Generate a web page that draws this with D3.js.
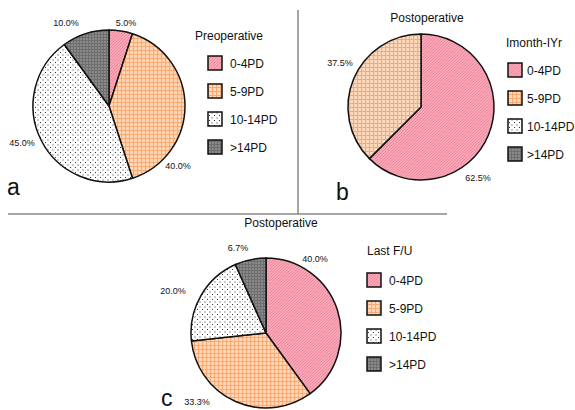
<!DOCTYPE html>
<html>
<head>
<meta charset="utf-8">
<script src="https://cdn.jsdelivr.net/npm/d3@7"></script>
<style>
  body { margin: 0; background: #fff; }
  text { font-family: "Liberation Sans", Arial, sans-serif; fill: #111; }
</style>
</head>
<body>
<div id="chart-container"></div>
<script>
const categories = ["0-4PD", "5-9PD", "10-14PD", ">14PD"];
const preopValues = [5.0, 40.0, 45.0, 10.0];
const monthValues = [62.5, 37.5, 0, 0];
const lastValues = [40.0, 33.3, 20.0, 6.7];
const panelTitles = ["Preoperative", "Imonth-IYr", "Last F/U"];
const panelLetters = ["a", "b", "c"];

const width = 575, height = 410;

const svg = d3.select("#chart-container").append("svg")
    .attr("width", width)
    .attr("height", height);

// fill patterns
const defs = svg.append("defs");

const p0 = defs.append("pattern").attr("id", "pat0")
    .attr("patternUnits", "userSpaceOnUse").attr("width", 3).attr("height", 3);
p0.append("rect").attr("width", 3).attr("height", 3).attr("fill", "#f8a8b6");
p0.append("path").attr("d", "M0,3 L3,0").attr("stroke", "#ef8399").attr("stroke-width", 0.9);

const p1 = defs.append("pattern").attr("id", "pat1")
    .attr("patternUnits", "userSpaceOnUse").attr("width", 4).attr("height", 4);
p1.append("rect").attr("width", 4).attr("height", 4).attr("fill", "#fdd9bc");
p1.append("path").attr("d", "M0,0.5 H4 M0.5,0 V4").attr("stroke", "#f8aa72").attr("stroke-width", 1.2);

const p2 = defs.append("pattern").attr("id", "pat2")
    .attr("patternUnits", "userSpaceOnUse").attr("width", 5).attr("height", 5);
p2.append("rect").attr("width", 5).attr("height", 5).attr("fill", "#fff");
p2.append("rect").attr("x", 1).attr("y", 1).attr("width", 1).attr("height", 1).attr("fill", "#333");
p2.append("rect").attr("x", 3.5).attr("y", 3.5).attr("width", 1).attr("height", 1).attr("fill", "#333");

const p3 = defs.append("pattern").attr("id", "pat3")
    .attr("patternUnits", "userSpaceOnUse").attr("width", 3).attr("height", 3);
p3.append("rect").attr("width", 3).attr("height", 3).attr("fill", "#8a8a8a");
p3.append("path").attr("d", "M0,0.5 H3 M0.5,0 V3").attr("stroke", "#6e6e6e").attr("stroke-width", 1);

const fill = d3.scaleOrdinal()
    .domain(categories)
    .range(categories.map((c, i) => `url(#pat${i})`));

// divider lines
svg.append("line").attr("x1", 298).attr("x2", 298).attr("y1", 10).attr("y2", 214)
    .attr("stroke", "#888").attr("stroke-width", 1.5);
svg.append("line").attr("x1", 8).attr("x2", 447).attr("y1", 214).attr("y2", 214)
    .attr("stroke", "#888").attr("stroke-width", 1.5);

const panels = [
    { values: preopValues, cx: 109, cy: 106, r: 76, legX: 208, legY: 63, legTitleX: 195, legTitleY: 40,
      topTitle: null, letter: [7, 195],
      labels: [[126, 26], [178, 169], [22, 146], [66, 26]] },
    { values: monthValues, cx: 421, cy: 107, r: 73, legX: 508, legY: 70, legTitleX: 506, legTitleY: 47,
      topTitle: [427, 22], letter: [336, 200],
      labels: [[478, 181], [340, 66], null, null] },
    { values: lastValues, cx: 266, cy: 333, r: 75, legX: 367, legY: 280, legTitleX: 367, legTitleY: 255,
      topTitle: [281, 227], letter: [161, 406],
      labels: [[315, 262], [197, 405], [173, 294], [238, 251]] }
];

const pie = d3.pie().sort(null).value(d => d.v);

panels.forEach((p, k) => {
    const data = categories.map((c, i) => ({ c, v: p.values[i] }));
    const arc = d3.arc().innerRadius(0).outerRadius(p.r);
    const g = svg.append("g").attr("transform", `translate(${p.cx},${p.cy})`);

    g.selectAll("path")
        .data(pie(data).filter(d => d.data.v > 0))
        .join("path")
        .attr("d", arc)
        .attr("fill", d => fill(d.data.c))
        .attr("stroke", "#111")
        .attr("stroke-width", 1.5)
        .attr("stroke-linejoin", "round");

    // percentage labels
    p.labels.forEach((pos, i) => {
        if (!pos) return;
        svg.append("text")
            .attr("x", pos[0]).attr("y", pos[1])
            .attr("text-anchor", "middle")
            .attr("font-size", 9)
            .text(p.values[i].toFixed(1) + "%");
    });

    if (p.topTitle) {
        svg.append("text")
            .attr("x", p.topTitle[0]).attr("y", p.topTitle[1])
            .attr("text-anchor", "middle")
            .attr("font-size", 12)
            .text("Postoperative");
    }

    // legend
    svg.append("text")
        .attr("x", p.legTitleX).attr("y", p.legTitleY)
        .attr("font-size", 12)
        .text(panelTitles[k]);

    const leg = svg.append("g").selectAll("g")
        .data(categories)
        .join("g")
        .attr("transform", (d, i) => `translate(${p.legX},${p.legY + i * 28})`);
    leg.append("rect")
        .attr("x", 0).attr("y", -7)
        .attr("width", 14).attr("height", 14)
        .attr("fill", d => fill(d))
        .attr("stroke", "#111").attr("stroke-width", 1.5);
    leg.append("text")
        .attr("x", k === 1 ? 19 : 22).attr("y", 4.5)
        .attr("font-size", 12)
        .text(d => d);

    svg.append("text")
        .attr("x", p.letter[0]).attr("y", p.letter[1])
        .attr("font-size", 23)
        .text(panelLetters[k]);
});
</script>
</body>
</html>
